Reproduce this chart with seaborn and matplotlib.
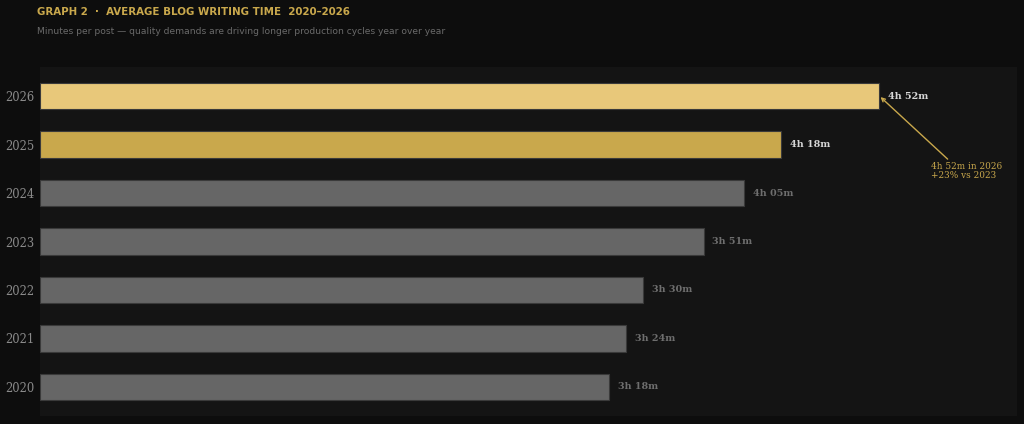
import matplotlib
matplotlib.use("Agg")
import matplotlib.pyplot as plt
import seaborn as sns
import pandas as pd

years = ['2026', '2025', '2024', '2023', '2022', '2021', '2020']
minutes = [292, 258, 245, 231, 210, 204, 198]
labels = ['4h 52m', '4h 18m', '4h 05m', '3h 51m', '3h 30m', '3h 24m', '3h 18m']
colors = ['#e8c87a', '#c9a84c', '#666666', '#666666', '#666666', '#666666', '#666666']

df = pd.DataFrame({'year': years, 'minutes': minutes})

sns.set_style('dark')
fig = plt.figure(figsize=(10.24, 4.24), dpi=100, facecolor='#0d0d0d')
ax = fig.add_axes([40/1024, 8/424, 977/1024, 349/424])
ax.set_facecolor('#141414')

sns.barplot(data=df, x='minutes', y='year', hue='year', palette=colors, legend=False,
            saturation=1, width=0.54, edgecolor='#3a3a3a', linewidth=0.8, ax=ax)

ax.set_xlim(0, 340)
ax.set_ylim(6.6, -0.6)
ax.set_xticks([])
ax.set_xlabel('')
ax.set_ylabel('')
ax.tick_params(axis='y', length=0, pad=4, labelsize=8.3, labelcolor='#8a8a8a')
for t in ax.get_yticklabels():
    t.set_family('DejaVu Serif')
for s in ax.spines.values():
    s.set_visible(False)
ax.grid(False)

for i, (m, lab) in enumerate(zip(minutes, labels)):
    c = '#d8d8d8' if i < 2 else '#6e6e6e'
    ax.text(m + 3, i, lab, va='center', ha='left', fontsize=6.9, fontweight='bold',
            color=c, family='DejaVu Serif')

ax.annotate('4h 52m in 2026\n+23% vs 2023', xy=(minutes[0] + 0.5, 0.02), xytext=(310, 1.55),
            fontsize=6.4, color='#c9a84c', family='DejaVu Serif', va='center', ha='left',
            linespacing=0.95,
            arrowprops=dict(arrowstyle='->', color='#c9a84c', lw=1,
                            shrinkA=0, shrinkB=0, relpos=(0.3, 0.95)))

fig.text(37/1024, 1 - 12/424, 'GRAPH 2  ·  AVERAGE BLOG WRITING TIME  2020–2026',
         color='#c9a84c', fontsize=7.4, fontweight='bold', va='center', ha='left')
fig.text(37/1024, 1 - 31/424, 'Minutes per post — quality demands are driving longer production cycles year over year',
         color='#6a6a6a', fontsize=6.6, va='center', ha='left')

fig.savefig('out.png', dpi=100, facecolor=fig.get_facecolor())
